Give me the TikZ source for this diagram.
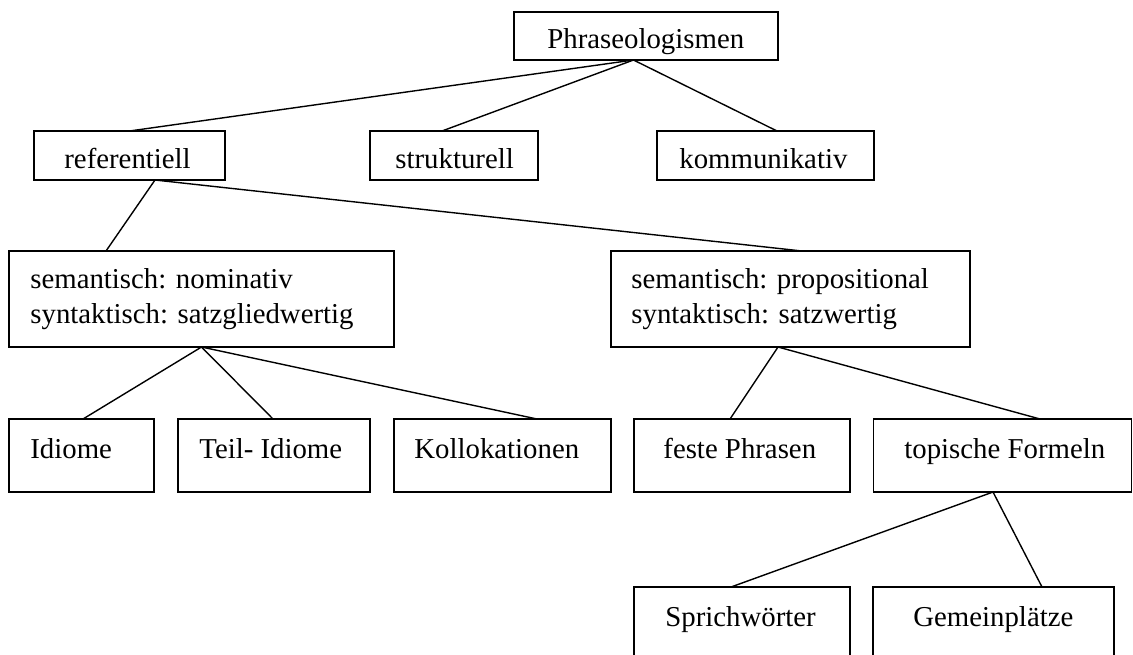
\documentclass[tikz,border=0pt]{standalone}
\usepackage{fontspec}
\setmainfont{Liberation Serif}
\usetikzlibrary{calc}
\begin{document}
\begin{tikzpicture}[x=0.5pt,y=-0.5pt,
  box/.style={draw, line width=0.9pt, inner sep=0pt, outer sep=0pt},
  txt/.style={anchor=base west, inner sep=0pt, font=\fontsize{14.4}{17.5}\selectfont},
  conn/.style={line width=0.7pt}]
\clip (0,0) rectangle (1133,654);
\fill[white] (0,0) rectangle (1133,654);
% boxes
\node[box, minimum width=132pt, minimum height=24pt] (phr) at (646,36) {};
\node[box, minimum width=95.5pt, minimum height=24.5pt] (ref) at (129.5,155.5) {};
\node[box, minimum width=84pt, minimum height=24.5pt] (str) at (454,155.5) {};
\node[box, minimum width=108.5pt, minimum height=24.5pt] (kom) at (765.5,155.5) {};
\node[box, minimum width=192.5pt, minimum height=48pt] (nom) at (201.5,299) {};
\node[box, minimum width=179.5pt, minimum height=48pt] (prop) at (790.5,299) {};
\node[box, minimum width=72.5pt, minimum height=36.5pt] (idi) at (81.5,455.5) {};
\node[box, minimum width=96pt, minimum height=36.5pt] (teil) at (274,455.5) {};
\node[box, minimum width=108.5pt, minimum height=36.5pt] (kol) at (502.5,455.5) {};
\node[box, minimum width=108pt, minimum height=36.5pt] (fes) at (742,455.5) {};
\node[box, minimum width=129pt, minimum height=36.5pt] (top) at (1002.5,455.5) {};
\node[box, minimum width=108pt, minimum height=36.5pt] (spr) at (742,623.5) {};
\node[box, minimum width=120.5pt, minimum height=36.5pt] (gem) at (993.5,623.5) {};
% texts
\node[txt] (tphr) at (547,48) {Phraseologismen};
\node[txt] (tref) at (64,168) {referentiell};
\node[txt] (tstr) at (395,168) {strukturell};
\node[txt] (tkom) at (679,168) {kommunikativ};
\node[txt] (tnom1) at (30,288) {semantisch: nominativ};
\node[txt] (tnom2) at (30,323) {syntaktisch: satzgliedwertig};
\node[txt] (tprop1) at (631,288) {semantisch: propositional};
\node[txt] (tprop2) at (631,323) {syntaktisch: satzwertig};
\node[txt] (tidi) at (30,458) {Idiome};
\node[txt] (tteil) at (199,458) {Teil- Idiome};
\node[txt] (tkol) at (414,458) {Kollokationen};
\node[txt] (tfes) at (663,458) {feste Phrasen};
\node[txt] (ttop) at (904,458) {topische Formeln};
\node[txt] (tspr) at (665,626) {Sprichwörter};
\node[txt] (tgem) at (913,626) {Gemeinplätze};
% connectors
\draw[conn] ($(phr.south)+(-12.5,0)$) -- (ref.north);
\draw[conn] ($(phr.south)+(-12.5,0)$) -- ($(str.north)+(-12,0)$);
\draw[conn] ($(phr.south)+(-12.5,0)$) -- ($(kom.north)+(11.5,0)$);
\draw[conn] ($(ref.south)+(25.5,0)$) -- ($(nom.north)+(-95.5,0)$);
\draw[conn] ($(ref.south)+(25.5,0)$) -- ($(prop.north)+(11.5,0)$);
\draw[conn] (nom.south) -- ($(idi.north)+(1.5,0)$);
\draw[conn] (nom.south) -- ($(teil.north)+(-1,0)$);
\draw[conn] (nom.south) -- ($(kol.north)+(34.5,0)$);
\draw[conn] ($(prop.south)+(-12.5,0)$) -- ($(fes.north)+(-12,0)$);
\draw[conn] ($(prop.south)+(-12.5,0)$) -- ($(top.north)+(37.5,0)$);
\draw[conn] ($(top.south)+(-9.5,0)$) -- ($(spr.north)+(-11,0)$);
\draw[conn] ($(top.south)+(-9.5,0)$) -- ($(gem.north)+(48.5,0)$);
\end{tikzpicture}
\end{document}
